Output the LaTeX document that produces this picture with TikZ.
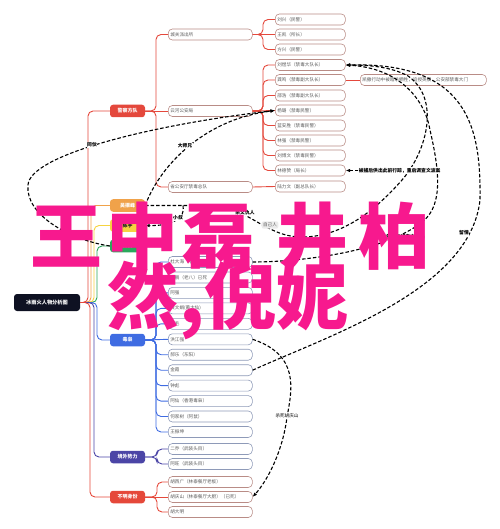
\documentclass[tikz,border=0pt]{standalone}
\usepackage{fontspec}
\usepackage{xcolor}
\usepackage{tikz}
\usetikzlibrary{arrows.meta}
\setmainfont{Noto Sans CJK SC}

\definecolor{rootblack}{HTML}{0E1122}
\definecolor{policered}{HTML}{E4483C}
\definecolor{wuorange}{HTML}{F0A24A}
\definecolor{chenyellow}{HTML}{F6D340}
\definecolor{lingreen}{HTML}{2AA85C}
\definecolor{drugblue}{HTML}{3F6CE2}
\definecolor{abroadpurple}{HTML}{4B45A6}
\definecolor{unknownred}{HTML}{E5483A}
\definecolor{policeline}{HTML}{B98C86}
\definecolor{drugline}{HTML}{8E9AB8}
\definecolor{topictext}{HTML}{5C5C5C}
\definecolor{bigpink}{HTML}{F7198E}

\tikzset{
  root/.style={fill=rootblack, text=white, rounded corners=3pt,
    minimum width=66pt, minimum height=17pt, inner sep=1pt,
    font=\fontsize{5.2}{6}\selectfont\bfseries},
  group/.style={fill=#1, text=white, rounded corners=3pt,
    minimum width=35pt, minimum height=12.5pt, inner sep=1pt,
    font=\fontsize{5}{6}\selectfont\bfseries},
  topic/.style={draw=#1, fill=white, text=topictext, rounded corners=4pt,
    line width=0.6pt, anchor=west, minimum height=11pt, inner sep=2pt,
    align=left, font=\fontsize{4.6}{5.5}\selectfont},
  mid/.style={topic=#1, text width=80pt},
  leaf/.style={topic=#1, text width=66pt},
  branch/.style={draw=#1, line width=0.9pt, rounded corners=5pt},
  rel/.style={draw=black, line width=1.1pt, dash pattern=on 3.5pt off 2pt},
  relarrow/.style={rel, -{Latex[length=4.5pt,width=3.5pt]}},
  rellabel/.style={fill=white, inner sep=0.6pt, text=black,
    font=\fontsize{4.8}{5.5}\selectfont\bfseries},
  bigtext/.style={anchor=west, inner sep=0pt, text=bigpink,
    font=\fontsize{72}{72}\selectfont\bfseries}
}

\begin{document}
\begin{tikzpicture}[x=1pt, y=-1pt]
  \useasboundingbox (0,0) rectangle (499,529);

  % root and groups
  \node[root] (root) at (47,302.5) {冰雨火人物分析图};
  \node[group=policered] (police) at (127.5,111) {警察方队};
  \node[group=wuorange] (wu) at (127.5,205.5) {吴振峰};
  \node[group=chenyellow, text=rootblack] (chen) at (127.5,225.5) {陈宇};
  \node[group=lingreen] (lin) at (127.5,246) {林杨};
  \node[group=drugblue] (drug) at (127.5,340) {毒枭};
  \node[group=abroadpurple] (abroad) at (127.5,457) {境外势力};
  \node[group=unknownred] (unknown) at (127.5,497) {不明身份};

  \draw[branch=policered] (root.east) -- (88,302.5) -- (88,111) -- (police.west);
  \draw[branch=wuorange] (root.east) -- (91,302.5) -- (91,205.5) -- (wu.west);
  \draw[branch=chenyellow] (root.east) -- (94,302.5) -- (94,225.5) -- (chen.west);
  \draw[branch=lingreen] (root.east) -- (97,302.5) -- (97,246) -- (lin.west);
  \draw[branch=drugblue] (root.east) -- (97,302.5) -- (97,340) -- (drug.west);
  \draw[branch=abroadpurple] (root.east) -- (94,302.5) -- (94,457) -- (abroad.west);
  \draw[branch=unknownred] (root.east) -- (90,302.5) -- (90,497) -- (unknown.west);

  % police side
  \node[mid=policeline] (station) at (168,34.5) {城关派出所};
  \node[mid=policeline] (yunhe) at (168,111) {云河公安局};
  \node[mid=policeline] (bureau) at (168,187) {省公安厅禁毒总队};

  \node[leaf=policeline] (cop1) at (275,19.5) {刘兴（民警）};
  \node[leaf=policeline] (cop2) at (275,34.5) {王凯（所长）};
  \node[leaf=policeline] (cop3) at (275,49.5) {方兴（民警）};
  \node[leaf=policeline] (liu) at (275,65) {刘煜华（禁毒大队长）};
  \node[leaf=policeline] (gong) at (275,80) {龚鸣（禁毒副大队长）};
  \node[leaf=policeline] (shao) at (275,95.5) {邵浩（禁毒副大队长）};
  \node[leaf=policeline] (yang) at (275,110.5) {杨璐（禁毒民警）};
  \node[leaf=policeline] (lan) at (275,125.5) {蓝安胜（禁毒民警）};
  \node[leaf=policeline] (linq) at (275,140.5) {林强（禁毒民警）};
  \node[leaf=policeline] (liub) at (275,155.5) {刘博文（禁毒民警）};
  \node[leaf=policeline] (linde) at (275,170.5) {林德赞（局长）};
  \node[leaf=policeline] (lu) at (275,186.5) {陆力文（副总队长）};
  \node[topic=policeline, text width=122pt] (gongnote) at (360,80)
    {凯撒行动中被暗杀牺牲，追授英模，公安部禁毒大门};

  \draw[branch=policered] (police.east) -- (156,111) -- (156,34.5) -- (station.west);
  \draw[branch=policered] (police.east) -- (yunhe.west);
  \draw[branch=policered] (police.east) -- (156,111) -- (156,187) -- (bureau.west);
  \draw[branch=policered] (station.east) -- (263,34.5) -- (263,19.5) -- (cop1.west);
  \draw[branch=policered] (station.east) -- (cop2.west);
  \draw[branch=policered] (station.east) -- (263,34.5) -- (263,49.5) -- (cop3.west);
  \draw[branch=policered] (yunhe.east) -- (263,111) -- (263,65) -- (liu.west);
  \draw[branch=policered] (yunhe.east) -- (263,111) -- (263,80) -- (gong.west);
  \draw[branch=policered] (yunhe.east) -- (263,111) -- (263,95.5) -- (shao.west);
  \draw[branch=policered] (yunhe.east) -- (yang.west);
  \draw[branch=policered] (yunhe.east) -- (263,111) -- (263,125.5) -- (lan.west);
  \draw[branch=policered] (yunhe.east) -- (263,111) -- (263,140.5) -- (linq.west);
  \draw[branch=policered] (yunhe.east) -- (263,111) -- (263,155.5) -- (liub.west);
  \draw[branch=policered] (yunhe.east) -- (263,111) -- (263,170.5) -- (linde.west);
  \draw[branch=policered] (bureau.east) -- (lu.west);
  \draw[branch=policered] (gong.east) -- (gongnote.west);

  % drug dealers
  \node[mid=drugline] (du) at (168,262) {杜大海（老大）已死};
  \node[mid=drugline] (yan) at (168,277.5) {严鹏（老八）已死};
  \node[mid=drugline] (qiang) at (168,292.9) {阿强};
  \node[mid=drugline] (huang) at (168,308.4) {黄文娟(黄大仙)};
  \node[mid=drugline] (mao) at (168,323.8) {三毛};
  \node[mid=drugline] (hong) at (168,339.3) {洪江强};
  \node[mid=drugline] (hao) at (168,354.7) {郝乐（东阳）};
  \node[mid=drugline] (jin) at (168,370.2) {金霞};
  \node[mid=drugline] (zhong) at (168,385.6) {钟彪};
  \node[mid=drugline] (axian) at (168,401.1) {阿仙（香港毒枭）};
  \node[mid=drugline] (he) at (168,416.5) {何家树（阿鼠）};
  \node[mid=drugline] (wang) at (168,432) {王振坤};

  \draw[branch=drugblue] (drug.east) -- (156,340) -- (156,262) -- (du.west);
  \draw[branch=drugblue] (drug.east) -- (156,340) -- (156,277.5) -- (yan.west);
  \draw[branch=drugblue] (drug.east) -- (156,340) -- (156,292.9) -- (qiang.west);
  \draw[branch=drugblue] (drug.east) -- (156,340) -- (156,308.4) -- (huang.west);
  \draw[branch=drugblue] (drug.east) -- (156,340) -- (156,323.8) -- (mao.west);
  \draw[branch=drugblue] (drug.east) -- (hong.west);
  \draw[branch=drugblue] (drug.east) -- (156,340) -- (156,354.7) -- (hao.west);
  \draw[branch=drugblue] (drug.east) -- (156,340) -- (156,370.2) -- (jin.west);
  \draw[branch=drugblue] (drug.east) -- (156,340) -- (156,385.6) -- (zhong.west);
  \draw[branch=drugblue] (drug.east) -- (156,340) -- (156,401.1) -- (axian.west);
  \draw[branch=drugblue] (drug.east) -- (156,340) -- (156,416.5) -- (he.west);
  \draw[branch=drugblue] (drug.east) -- (156,340) -- (156,432) -- (wang.west);

  % abroad and unknown
  \node[mid=drugline] (erqiao) at (168,449) {二乔（武装头目）};
  \node[mid=drugline] (awang) at (168,464) {阿旺（武装头目）};
  \node[mid=policeline] (huxg) at (168,482) {胡西广（林泰餐厅老板）};
  \node[mid=policeline] (huqs) at (168,497) {胡庆山（林泰餐厅大厨）（已死）};
  \node[mid=policeline] (hudm) at (168,512) {胡大明};

  \draw[branch=abroadpurple] (abroad.east) -- (157,457) -- (157,449) -- (erqiao.west);
  \draw[branch=abroadpurple] (abroad.east) -- (157,457) -- (157,464) -- (awang.west);
  \draw[branch=unknownred] (unknown.east) -- (157,497) -- (157,482) -- (huxg.west);
  \draw[branch=unknownred] (unknown.east) -- (huqs.west);
  \draw[branch=unknownred] (unknown.east) -- (157,497) -- (157,512) -- (hudm.west);

  % relations
  \coordinate (fork) at (183,205.5);
  \fill (wu.east) circle (1.6pt);
  \draw[relarrow] (lin.west) .. controls (70,240) and (25,215) .. (28,185)
    .. controls (30,155) and (150,125) .. (yang.west);
  \node[rellabel] (tonghuo) at (92,145) {同伙};
  \draw[relarrow] (wu.east) .. controls (158,170) and (200,120) .. (yang.west);
  \node[rellabel] (shixiong) at (185,146) {大师兄};
  \draw[relarrow] (wu.east) -- (fork) -- (212,205.5)
    .. controls (245,205.5) and (265,236) .. (300,237)
    .. controls (345,238) and (380,205) .. (402,180)
    .. controls (428,150) and (440,98) .. (408,76)
    .. controls (390,66) and (365,65) .. (liu.east);
  \node[rellabel] (chouren) at (245,213) {杀父仇人};
  \node[fill=black!8, rounded corners=2pt, inner sep=1.5pt,
    font=\fontsize{4.6}{5.5}\selectfont, text=topictext] (ziji) at (270,225) {自己人};
  \draw[relarrow] (fork) .. controls (186,218) and (172,226) .. (chen.east);
  \node[rellabel] (xiao) at (178,218) {小叔};
  \draw[relarrow] (du.east) .. controls (300,262) and (385,252) .. (422,222)
    .. controls (445,205) and (438,165) .. (430,130)
    .. controls (425,100) and (400,68) .. (liu.east);
  \node[rellabel] (xiangyu) at (403,237) {多年后在缉毒中相遇};
  \draw[relarrow] (jin.east) .. controls (330,335) and (470,290) .. (480,200)
    .. controls (481,130) and (470,62) .. (liu.east);
  \node[rellabel] (liuqing) at (464,233) {留情};
  \node[rellabel, anchor=west] (beibu) at (358,170.5) {被捕后供出此前行踪，重启调查文波案};
  \draw[relarrow] (beibu.west) -- (linde.east);
  \draw[relarrow] (hong.east) .. controls (300,355) and (292,390) .. (287,417)
    .. controls (283,450) and (268,480) .. (huqs.east);
  \node[rellabel, font=\fontsize{4.6}{5.5}\selectfont] (shasi) at (287,416) {杀死胡庆山};

  % overlay text
  \node[bigtext] (lineone) at (30,236)
    {王\hspace{4pt}中\hspace{4pt}磊\hspace{22pt}井\hspace{10pt}柏};
  \node[bigtext] (linetwo) at (107,300) {然,倪妮};
\end{tikzpicture}
\end{document}
